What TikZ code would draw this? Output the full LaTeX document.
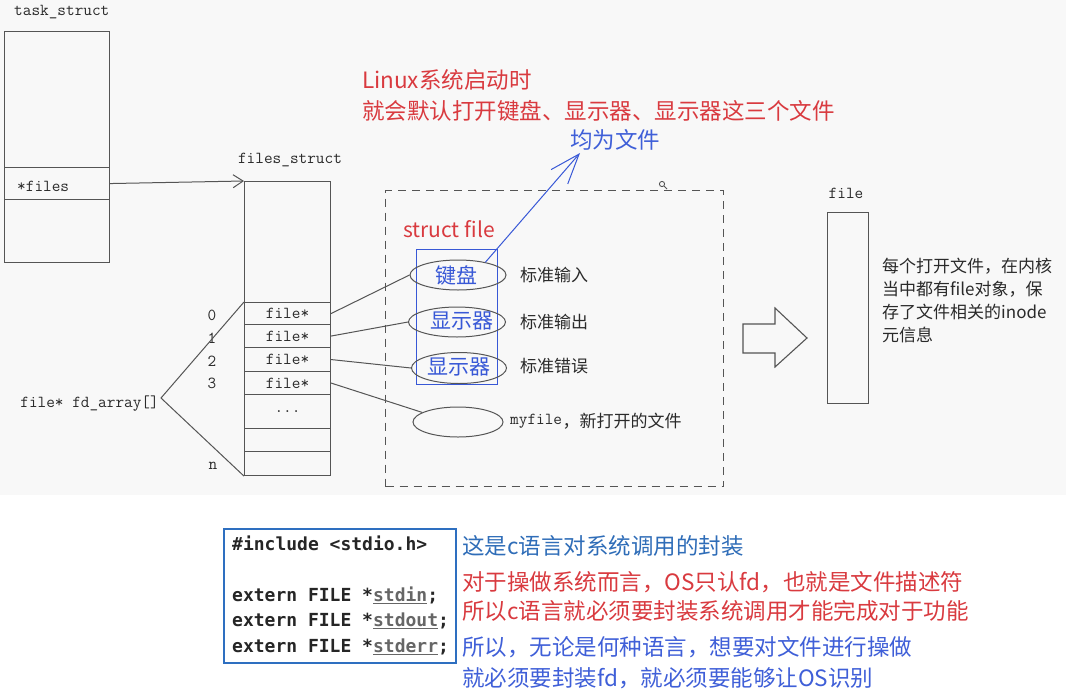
\documentclass[tikz,border=0pt]{standalone}
\usepackage{fontspec}
\newfontfamily\cjk{Noto Sans CJK SC}
\newfontfamily\codefont{DejaVu Sans Mono}
\usetikzlibrary{arrows.meta,calc,shapes.geometric}
\definecolor{bg}{HTML}{F8F8F8}
\definecolor{ln}{HTML}{555555}
\definecolor{txt}{HTML}{2A2A2A}
\definecolor{hred}{HTML}{D93A3F}
\definecolor{hblue}{HTML}{3F5FD8}
\definecolor{sblue}{HTML}{2F6DB8}
\definecolor{boxblue}{HTML}{3858D6}
\definecolor{codeblue}{HTML}{2E6FC0}
\begin{document}
\begin{tikzpicture}[x=1pt,y=-1pt,
  mono/.style={font=\fontsize{16.8}{18}\selectfont\ttfamily, text=txt, inner sep=0pt},
  cell/.style={draw=ln, line width=1.1pt, minimum width=86pt, inner sep=0pt, anchor=north west, font=\fontsize{16.8}{18}\selectfont\ttfamily, text=txt},
  tcell/.style={draw=ln, line width=1.1pt, minimum width=105pt, inner sep=0pt, anchor=north west},
  conn/.style={draw=ln, line width=1pt},
  oval/.style={ellipse, draw=ln, line width=1pt, inner sep=0pt},
  ovtext/.style={font=\cjk\fontsize{21}{24}\selectfont, text=boxblue, inner sep=0pt},
  glabel/.style={font=\cjk\fontsize{17}{20}\selectfont, text=txt, inner sep=0pt, anchor=west},
  bigtext/.style={font=\cjk\fontsize{22.5}{26}\selectfont, inner sep=0pt, anchor=west},
  codeline/.style={font=\codefont\bfseries\fontsize{18}{20}\selectfont, text=black!85, inner sep=0pt, anchor=west},
]
\useasboundingbox (0,0) rectangle (1066,697);
\fill[white] (0,0) rectangle (1066,697);
\fill[bg] (0,0) rectangle (1066,495);

% task_struct
\node[mono, anchor=west] (tslbl) at (14,12) {task\_struct};
\node[tcell, minimum height=136pt] (tstop) at (4,31) {};
\node[tcell, minimum height=32pt] (tsfiles) at (4,167) {};
\node[mono, anchor=west] (tsftext) at (17,186) {*files};
\node[tcell, minimum height=63pt] (tsbot) at (4,199) {};

% files_struct
\node[mono] (fslbl) at (290,160) {files\_struct};
\node[cell, minimum height=121pt] (fstop) at (244,181) {};
\node[cell, minimum height=22pt] (r0) at (244,302) {file*};
\node[cell, minimum height=23pt] (r1) at (244,324) {file*};
\node[cell, minimum height=24pt] (r2) at (244,347) {file*};
\node[cell, minimum height=23pt] (r3) at (244,371) {file*};
\node[cell, minimum height=34pt] (r4) at (244,394) {...};
\node[cell, minimum height=23pt] (r5) at (244,428) {};
\node[cell, minimum height=24pt] (r6) at (244,451) {};

\draw[conn, -{Straight Barb[length=10pt,width=13pt]}] (tsfiles.east) -- (fstop.north west);

% indices
\node[mono] (i0) at (212,315) {0};
\node[mono] (i1) at (212,338) {1};
\node[mono] (i2) at (212,361) {2};
\node[mono] (i3) at (212,383) {3};
\node[mono] (in) at (213,466) {n};

% fd_array
\node[mono, anchor=east] (fd) at (159,404) {file* fd\_array[]};
\coordinate (fdv) at (161,398);
\draw[conn] (r0.north west) -- (fdv) -- (r6.south west);

% dashed region
\node[draw=ln, line width=1.2pt, dash pattern=on 8pt off 6pt, minimum width=338pt, minimum height=296pt, anchor=north west, inner sep=0pt] (region) at (385,190) {};
% magnifier
\draw[ln, line width=0.9pt] (662,184) circle (2.6pt) (664,186) -- (667,189);

\node[font=\cjk\fontsize{21}{24}\selectfont, text=hred, inner sep=0pt, anchor=west] (sf) at (403,229) {struct file};
\node[draw=boxblue, line width=1.2pt, minimum width=81pt, minimum height=135pt, anchor=north west, inner sep=0pt] (bbox) at (416,249) {};

\node[oval, minimum width=96pt, minimum height=30pt] (e1) at (458,275) {};
\node[oval, minimum width=97pt, minimum height=30pt] (e2) at (457,322) {};
\node[oval, minimum width=95pt, minimum height=31pt] (e3) at (459,368) {};
\node[oval, minimum width=90pt, minimum height=30pt] (e4) at (458,422) {};

\node[ovtext] (k1) at (456,275) {键盘};
\node[ovtext] (k2) at (462,321) {显示器};
\node[ovtext] (k3) at (459,367) {显示器};

\node[glabel] (l1) at (520,275) {标准输入};
\node[glabel] (l2) at (520,322) {标准输出};
\node[glabel] (l3) at (520,366) {标准错误};
\node[mono, anchor=west] (l4a) at (510,421) {myfile};
\node[glabel] (l4) at (l4a.east) {，新打开的文件};

\draw[conn] (r0.east) -- (e1.west);
\draw[conn] (r1.east) -- (e2.west);
\draw[conn] (r2.east) -- (e3.west);
\draw[conn] (r3.east) -- (e4.165);

% annotations top
\node[bigtext, text=hred] (t1) at (362,80) {Linux系统启动时};
\node[bigtext, text=hred] (t2) at (362,111) {就会默认打开键盘、显示器、显示器这三个文件};
\node[bigtext, text=hblue] (jw) at (570,140) {均为文件};
\coordinate (tip) at (580,153);
\draw[boxblue, line width=1pt, -{Straight Barb[length=30pt,width=22pt]}] (e1.25) -- (tip);

% hollow arrow
\draw[ln, line width=1.1pt] (743,324) -- (775,324) -- (775,308) -- (807,338) -- (775,367) -- (775,353) -- (743,353) -- cycle;

% file object
\node[mono] (flbl) at (846,193) {file};
\node[draw=ln, line width=1.1pt, minimum width=41pt, minimum height=191pt, anchor=north west, inner sep=0pt] (fbox) at (827,212) {};
\node[glabel] (d1) at (882,266) {每个打开文件，在内核};
\node[glabel] (d2) at (882,289) {当中都有file对象，保};
\node[glabel] (d3) at (882,312) {存了文件相关的inode};
\node[glabel] (d4) at (882,335) {元信息};

% code box
\node[draw=codeblue, line width=1.6pt, fill=white, minimum width=232pt, minimum height=134pt, anchor=north west, inner sep=0pt] (code) at (223,528) {};
\node[codeline] (c1) at (232,543) {\#include <stdio.h>};
\node[codeline] (c2) at (232,595) {extern FILE *\textcolor{black!60}{\underline{stdin}};};
\node[codeline] (c3) at (232,621) {extern FILE *\textcolor{black!60}{\underline{stdout}};};
\node[codeline] (c4) at (232,647) {extern FILE *\textcolor{black!60}{\underline{stderr}};};

% bottom notes
\node[bigtext, text=sblue] (b1) at (462,546) {这是c语言对系统调用的封装};
\node[bigtext, text=hred] (b2) at (462,582) {对于操做系统而言，OS只认fd，也就是文件描述符};
\node[bigtext, text=hred] (b3) at (462,611) {所以c语言就必须要封装系统调用才能完成对于功能};
\node[bigtext, text=hblue] (b4) at (462,647) {所以，无论是何种语言，想要对文件进行操做};
\node[bigtext, text=hblue] (b5) at (462,678) {就必须要封装fd，就必须要能够让OS识别};
\end{tikzpicture}
\end{document}
